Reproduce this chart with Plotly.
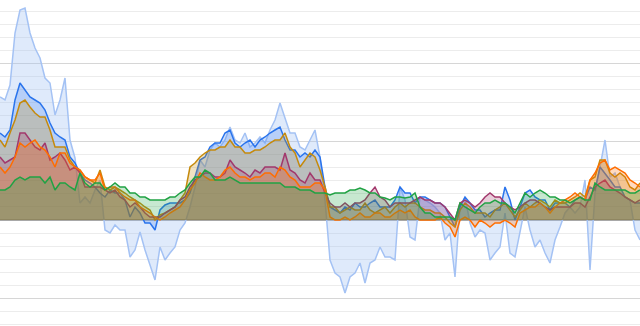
import plotly.graph_objects as go

# sample index (every ~5 px across the chart)
idx = list(range(129))

light_blue = [123,120,135,187,210,212,187,172,162,142,137,105,120,142,80,62,17,23,17,30,40,-10,-13,-5,-10,-10,-37,-30,-12,-30,-45,-60,-27,
              -40,-33,-27,-10,-3,13,33,60,53,70,77,73,80,93,80,77,87,73,77,83,77,90,100,117,103,87,87,73,70,80,90,63,
              20,-40,-53,-57,-73,-57,-53,-43,-63,-43,-40,-27,-37,-37,-40,33,20,-17,-20,23,20,17,13,7,-20,-13,-57,13,23,-3,-17,-10,
              -13,-40,-33,-27,7,-33,-37,-13,13,-10,-27,-20,-33,-43,-20,-7,7,13,7,13,40,-50,27,53,80,43,47,33,23,20,-10,-20]

blue = [87,83,90,120,137,130,123,120,117,110,97,87,83,80,63,57,47,40,37,33,27,23,30,27,27,20,3,13,7,-3,-3,-10,10,
        15,17,17,17,20,27,43,60,63,73,77,77,87,90,77,73,77,80,73,80,83,87,90,93,80,70,70,63,67,63,70,63,
        33,13,10,7,13,10,17,13,13,17,20,13,13,13,20,33,27,27,17,23,23,20,17,17,13,3,-7,13,23,17,10,10,
        3,7,10,10,33,20,0,13,27,30,23,20,20,10,17,17,17,13,20,23,20,33,30,53,47,40,33,33,23,20,17,17]

gold = [80,73,87,100,117,120,113,107,103,103,90,73,73,73,60,53,50,43,40,37,50,33,30,33,30,27,23,20,17,13,10,0,5,
        7,10,13,20,27,53,57,63,67,70,70,73,73,80,73,73,67,67,70,70,73,77,80,80,87,73,67,53,60,67,63,50,
        33,13,13,7,10,13,10,10,17,10,7,10,13,7,13,17,13,17,17,13,10,10,7,7,3,-3,-7,10,17,13,7,7,
        7,3,10,13,17,10,3,10,17,13,17,20,17,13,20,17,17,20,23,27,23,40,43,60,60,47,43,47,43,33,30,37]

maroon = [63,57,60,63,87,87,80,73,70,77,60,63,67,60,50,53,47,33,33,33,33,30,27,30,23,20,13,17,13,7,3,3,3,
          7,10,13,20,23,33,40,43,47,47,43,43,47,60,53,50,47,43,50,47,53,53,53,50,67,50,47,40,37,47,40,40,
          27,17,13,13,17,13,17,17,20,27,33,23,20,13,17,17,17,17,20,23,20,20,17,17,13,7,0,17,20,17,13,17,
          23,27,23,23,17,13,10,13,17,20,20,17,13,10,13,13,13,13,17,17,13,23,33,37,40,33,30,27,23,20,17,20]

orange = [53,47,53,63,77,73,77,80,73,70,63,53,67,67,57,53,50,43,40,40,47,30,33,33,27,23,20,20,13,10,7,3,0,
          3,7,10,13,20,30,37,47,43,40,40,43,50,53,47,43,43,40,43,43,47,47,43,53,50,43,40,33,33,33,37,37,
          30,3,0,0,3,0,3,7,3,3,7,7,3,3,7,10,7,10,3,0,0,0,0,3,-3,-7,-17,0,3,0,-7,0,
          -3,-7,-3,-3,0,-3,-7,7,10,13,13,17,13,7,13,17,20,23,27,23,20,40,47,57,60,50,53,50,47,40,37,33]

green = [30,30,33,40,43,40,43,43,43,37,43,30,37,37,33,30,47,37,33,37,37,30,33,37,33,33,27,27,23,23,20,20,20,
         20,23,23,27,30,37,43,43,50,47,40,40,40,43,40,37,37,37,37,37,37,37,37,37,33,33,33,30,30,30,27,27,
         27,25,27,27,27,30,30,32,30,27,27,23,22,20,23,23,22,23,27,13,7,7,3,3,3,3,0,17,13,10,7,13,
         17,17,20,17,17,13,7,17,27,23,27,30,27,23,23,20,20,17,20,23,20,20,37,33,30,30,30,30,30,27,27,30]

series = [
    ("light", light_blue, "#a4c2f4", "rgba(164,194,244,0.35)"),
    ("blue", blue, "#2a74ec", "rgba(42,116,236,0.22)"),
    ("gold", gold, "#c58a0c", "rgba(197,138,12,0.25)"),
    ("maroon", maroon, "#a2386c", "rgba(162,56,108,0.25)"),
    ("orange", orange, "#ff6d01", "rgba(255,109,1,0.25)"),
    ("green", green, "#21a244", "rgba(33,162,68,0.25)"),
]

fig = go.Figure()
for name, vals, line_c, fill_c in series:
    fig.add_trace(go.Scatter(x=idx, y=vals, mode="lines", name=name,
                             line=dict(color=line_c, width=1.5),
                             fill="tozeroy", fillcolor=fill_c, hoverinfo="skip"))

fig.update_layout(
    width=640, height=326, margin=dict(l=0, r=0, t=0, b=0),
    paper_bgcolor="white", plot_bgcolor="white", showlegend=False,
    xaxis=dict(range=[0, 128], showgrid=False, zeroline=False, showticklabels=False, ticks=""),
    yaxis=dict(range=[-106, 220], tick0=0, dtick=78.3, showgrid=True, gridcolor="#d6d6d6",
               zeroline=True, zerolinecolor="#a8a8a8", zerolinewidth=1.5,
               showticklabels=False, ticks="",
               minor=dict(tick0=0, dtick=13.05, showgrid=True, gridcolor="#ececec")),
)
fig.write_html("out.html")
